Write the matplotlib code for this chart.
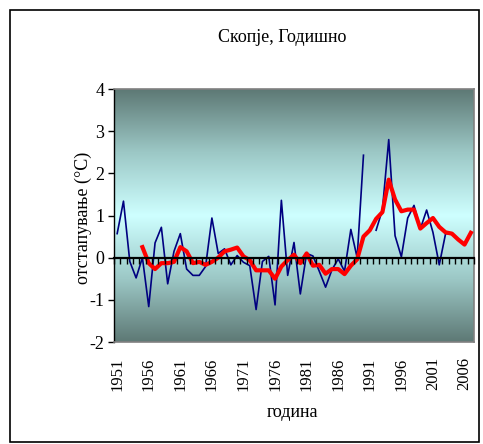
import numpy as np
import matplotlib
matplotlib.use("Agg")
from matplotlib import pyplot as plt
from matplotlib.colors import LinearSegmentedColormap
from matplotlib.patches import Rectangle
from matplotlib.ticker import NullFormatter

plt.rcParams['font.family'] = ['Liberation Serif', 'DejaVu Serif']
plt.rcParams['axes.unicode_minus'] = False

years = list(range(1951, 2008))

# годишно отстапување (сина линија), 1991 недостасува
annual = [0.57, 1.34, -0.09, -0.48, 0.00, -1.16, 0.35, 0.72, -0.62, 0.15,
          0.57, -0.27, -0.42, -0.42, -0.21, 0.94, 0.10, 0.21, -0.17, 0.05,
          -0.11, -0.19, -1.23, -0.09, 0.03, -1.12, 1.36, -0.42, 0.36, -0.86,
          0.10, 0.04, -0.32, -0.70, -0.29, -0.03, -0.32, 0.67, 0.00, 2.43,
          np.nan, 0.65, 1.14, 2.80, 0.52, 0.02, 0.94, 1.24, 0.68, 1.13,
          0.60, -0.17, 0.57, 0.57, 0.43, 0.31, 0.59]

# 5-годишен подвижен просек (црвена линија), од 1955
ma_years = list(range(1955, 2008))
moving_avg = [0.25, -0.13, -0.27, -0.13, -0.13, -0.10, 0.25, 0.15, -0.13, -0.10,
              -0.17, -0.10, 0.00, 0.15, 0.19, 0.24, 0.03, -0.06, -0.30, -0.30,
              -0.30, -0.50, -0.21, -0.06, 0.07, -0.13, 0.10, -0.19, -0.17, -0.38,
              -0.27, -0.27, -0.39, -0.19, -0.04, 0.50, 0.65, 0.92, 1.08, 1.85,
              1.38, 1.10, 1.14, 1.14, 0.69, 0.82, 0.94, 0.73, 0.60, 0.57,
              0.43, 0.31, 0.59]

label_years = years[::5]

fig = plt.figure(figsize=(4.83, 4.44), dpi=100)
ax = fig.add_axes([114/483, 1 - 342/444, 360/483, 253/444])

ymin, ymax = -2, 4
xmin, xmax = years[0] - 0.5, years[-1] + 0.5

# позадина со преливање
cmap = LinearSegmentedColormap.from_list(
    'bg', ['#5e7975', '#9cc8c6', '#ceffff', '#9cc8c6', '#5e7975'])
grad = np.linspace(0, 1, 256).reshape(-1, 1)
ax.imshow(grad, cmap=cmap, aspect='auto', extent=[xmin, xmax, ymin, ymax],
          origin='upper', zorder=0)

ax.plot(years, annual, color='#000080', lw=1.2, zorder=3)
ax.plot(ma_years, moving_avg, color='#ff0000', lw=3, zorder=4,
        solid_joinstyle='round')

ax.set_xlim(xmin, xmax)
ax.set_ylim(ymin, ymax)
ax.set_yticks(range(ymin, ymax + 1))
ax.tick_params(axis='y', direction='out', length=4, width=1, pad=3,
               labelsize=13, colors='black')
ax.set_xticks(label_years)
ax.set_xticklabels([str(y) for y in label_years], rotation=90)
ax.tick_params(axis='x', length=0, pad=11, labelsize=12)

for s in ['top', 'right', 'bottom']:
    ax.spines[s].set_color('#808080')
    ax.spines[s].set_linewidth(1.2)
ax.spines['left'].set_color('black')
ax.spines['left'].set_linewidth(1)

# хоризонтална оска на нула
zero_pos = (0 - ymin) / (ymax - ymin)
sec = ax.secondary_xaxis(zero_pos)
sec.set_xticks([y - 0.5 for y in years] + [years[-1] + 0.5])
sec.xaxis.set_major_formatter(NullFormatter())
sec.tick_params(direction='out', length=4, width=1)
sec.spines['bottom'].set_linewidth(1.6)
sec.spines['bottom'].set_color('black')
sec.spines['top'].set_visible(False)
sec.set_zorder(5)

fig.text(282/483, 1 - 37/444, 'Скопје, Годишно', ha='center', va='center',
         fontsize=13)
fig.text(83/483, 1 - 218/444, 'отстапување (°C)', ha='center', va='center',
         rotation=90, fontsize=13)
fig.text(292/483, 1 - 412/444, 'година', ha='center', va='center',
         fontsize=13)

fig.patches.append(Rectangle((10/483, 2.5/444), 469/483, 431.5/444,
                             transform=fig.transFigure, fill=False,
                             edgecolor='black', lw=1.2))

fig.savefig('out.png', dpi=100)
